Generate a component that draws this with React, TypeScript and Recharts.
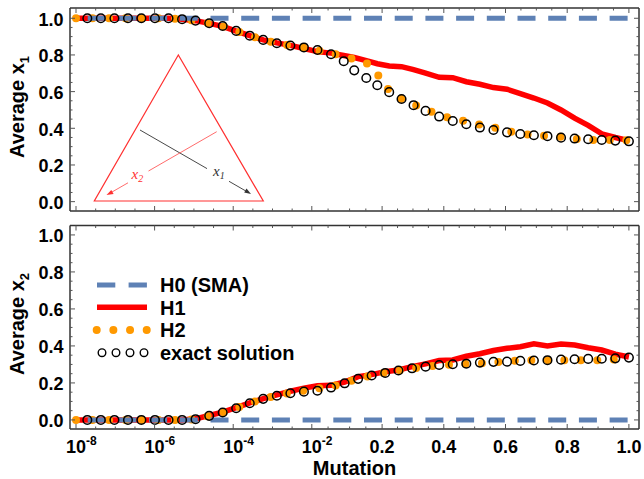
import React from "react";
import { LineChart, Line, XAxis, YAxis } from "recharts";

const FONT = '"Liberation Sans", Arial, Helvetica, sans-serif';
const BLUE = "#5E81B5";
const RED = "#FF0000";
const ORANGE = "#FF9900";
const FRAME = "#333";

// mutation rates of the sampled points (top panel has a few extra around 0.04-0.3)
const mutTop = [
    1.94e-8, 4.28e-8, 9.5e-8, 2.1e-7, 4.6e-7, 1.02e-6, 2.26e-6, 5.0e-6, 1.1e-5, 2.45e-5,
    5.4e-5, 1.19e-4, 2.64e-4, 5.8e-4, 1.29e-3, 2.85e-3, 6.3e-3, 0.0127, 0.0227, 0.039,
    0.061, 0.102, 0.163, 0.223, 0.263, 0.302, 0.341, 0.385, 0.429, 0.473,
    0.517, 0.561, 0.605, 0.648, 0.692, 0.736, 0.78, 0.824, 0.868, 0.912, 0.956, 1.0,
];
const mutBottom = [
    1.94e-8, 4.28e-8, 9.5e-8, 2.1e-7, 4.6e-7, 1.02e-6, 2.26e-6, 5.0e-6, 1.1e-5, 2.45e-5,
    5.4e-5, 1.19e-4, 2.64e-4, 5.8e-4, 1.29e-3, 2.85e-3, 6.3e-3, 0.0127, 0.0227, 0.0405,
    0.0719, 0.128, 0.21, 0.253, 0.297, 0.341, 0.385, 0.429, 0.473, 0.517,
    0.561, 0.605, 0.648, 0.692, 0.736, 0.78, 0.824, 0.868, 0.912, 0.956, 1.0,
];
const curveStart = 1e-8; // H0/H1/H2 curves start at the left tick
const mutEnd = 1.0;

// Average x1
const exactX1 = [
    1, 1, 1, 1, 1, 1, 1, 0.995, 0.987, 0.973, 0.958, 0.931, 0.905, 0.882, 0.864, 0.851,
    0.841, 0.827, 0.804, 0.766, 0.716, 0.674, 0.635, 0.597, 0.56, 0.526, 0.495, 0.464,
    0.44, 0.422, 0.404, 0.391, 0.378, 0.369, 0.362, 0.357, 0.349, 0.344, 0.34, 0.336, 0.333, 0.329,
];
const h1X1 = [
    1, 1, 1, 1, 1, 1, 1, 0.995, 0.987, 0.972, 0.956, 0.93, 0.905, 0.882, 0.866, 0.852,
    0.835, 0.818, 0.81, 0.797, 0.786, 0.769, 0.752, 0.74, 0.736, 0.72, 0.701, 0.678,
    0.676, 0.654, 0.64, 0.622, 0.613, 0.589, 0.565, 0.538, 0.5, 0.455, 0.416, 0.37, 0.35, 0.333,
];
const h2X1 = [
    1, 1, 1, 1, 1, 1, 1, 0.995, 0.987, 0.973, 0.958, 0.931, 0.905, 0.882, 0.864, 0.851,
    0.84, 0.825, 0.808, 0.797, 0.775, 0.757, 0.695, 0.606, 0.56, 0.53, 0.503, 0.475,
    0.45, 0.438, 0.42, 0.405, 0.385, 0.372, 0.362, 0.358, 0.354, 0.342, 0.337, 0.336, 0.336, 0.335,
];
const startX1 = 1;
const h0X1 = 1;

// Average x2
const exactX2 = [
    0, 0, 0, 0, 0, 0, 0, 0, 0.004, 0.022, 0.04, 0.063, 0.09, 0.114, 0.131, 0.144, 0.153,
    0.158, 0.175, 0.198, 0.222, 0.24, 0.254, 0.267, 0.279, 0.288, 0.297, 0.301, 0.304,
    0.31, 0.314, 0.315, 0.319, 0.321, 0.323, 0.326, 0.328, 0.33, 0.331, 0.333, 0.337,
];
const h1X2 = [
    0, 0, 0, 0, 0, 0, 0, 0, 0.006, 0.024, 0.042, 0.066, 0.092, 0.115, 0.135, 0.155, 0.172,
    0.185, 0.187, 0.205, 0.234, 0.245, 0.261, 0.27, 0.288, 0.303, 0.321, 0.324, 0.344,
    0.358, 0.375, 0.387, 0.396, 0.411, 0.4, 0.41, 0.405, 0.39, 0.378, 0.356, 0.34,
];
const h2X2 = [
    0, 0, 0, 0, 0, 0, 0, 0, 0.004, 0.022, 0.04, 0.063, 0.09, 0.114, 0.132, 0.147, 0.158,
    0.17, 0.18, 0.2, 0.222, 0.24, 0.255, 0.267, 0.278, 0.287, 0.295, 0.3, 0.302,
    0.305, 0.31, 0.318, 0.322, 0.323, 0.322, 0.322, 0.323, 0.323, 0.322, 0.328, 0.337,
];
const startX2 = 0;
const h0X2 = 0;

const xMajor = [1e-8, 1e-6, 1e-4, 1e-2, 0.2, 0.4, 0.6, 0.8, 1.0];
const xMajorLabels = ["10^-8", "10^-6", "10^-4", "10^-2", "0.2", "0.4", "0.6", "0.8", "1.0"];
const xMinorExp = [-7.5, -7, -6.5, -5.5, -5, -4.5, -3.5, -3, -2.5];
const xMinorMid = [0.02, 0.05, 0.1];
const xMinorLin = [0.25, 0.3, 0.35, 0.45, 0.5, 0.55, 0.65, 0.7, 0.75, 0.85, 0.9, 0.95];
const yMajor = [0, 0.2, 0.4, 0.6, 0.8, 1.0];
const yMinor = [0.05, 0.1, 0.15, 0.25, 0.3, 0.35, 0.45, 0.5, 0.55, 0.65, 0.7, 0.75, 0.85, 0.9, 0.95];

// mixed axis: log decades up to 1e-2, a short log bridge to 0.2, then linear
function axisPos(m: number) {
    if (m <= 1e-2) return Math.log10(m) + 8;
    if (m < 0.2) return 6 + (1.789 * (Math.log10(m) + 2)) / Math.log10(20);
    return 7.789 + (m - 0.2) * 7.85;
}

const X_DOMAIN: [number, number] = [-0.153, 14.326];
const xMajorPos = xMajor.map(axisPos);
const xTicks = [...xMajor, ...xMinorExp.map((e) => 10 ** e), ...xMinorMid, ...xMinorLin]
    .map(axisPos)
    .sort((a, b) => a - b);
const yTicks = [...yMajor, ...yMinor].sort((a, b) => a - b);

type Series = { key: string; m: number[]; v: number[] };
function buildRows(series: Series[]) {
    const map = new Map<number, any>();
    series.forEach((s) =>
        s.m.forEach((m, i) => {
            const row = map.get(m) ?? { m, u: axisPos(m) };
            row[s.key] = s.v[i];
            map.set(m, row);
        })
    );
    return [...map.values()].sort((a, b) => a.m - b.m);
}

const topRows = buildRows([
    { key: "exact", m: mutTop, v: exactX1 },
    { key: "h1", m: [curveStart, ...mutTop], v: [startX1, ...h1X1] },
    { key: "h2", m: [curveStart, ...mutTop], v: [startX1, ...h2X1] },
    { key: "h0", m: [curveStart, mutEnd], v: [h0X1, h0X1] },
]);
const bottomRows = buildRows([
    { key: "exact", m: mutBottom, v: exactX2 },
    { key: "h1", m: [curveStart, ...mutBottom], v: [startX2, ...h1X2] },
    { key: "h2", m: [curveStart, ...mutBottom], v: [startX2, ...h2X2] },
    { key: "h0", m: [curveStart, mutEnd], v: [h0X2, h0X2] },
]);

const labelStyle = { fontFamily: FONT, fontWeight: 700, fill: "#000" } as const;

const xTick = (side: "top" | "bottom", withLabels: boolean) => (props: any) => {
    const { x, y, payload } = props;
    const idx = xMajorPos.findIndex((p) => Math.abs(p - payload.value) < 1e-9);
    const len = idx >= 0 ? 5 : 2.5;
    let label: React.ReactNode = null;
    if (withLabels && idx >= 0) {
        const [base, exp] = xMajorLabels[idx].split("^");
        label = exp ? (
            <text x={x - 10} y={y + 23.5} textAnchor="start" fontSize={18} {...labelStyle}>
                {base}
                <tspan dy={-7.5} fontSize={12}>{exp}</tspan>
            </text>
        ) : (
            <text x={x} y={y + 23.5} textAnchor="middle" fontSize={18} {...labelStyle}>
                {base}
            </text>
        );
    }
    return (
        <g>
            <line x1={x} x2={x} y1={y} y2={side === "bottom" ? y - len : y + len} stroke="#555" strokeWidth={1} />
            {label}
        </g>
    );
};

const yTick = (side: "left" | "right") => (props: any) => {
    const { x, y, payload } = props;
    const major = yMajor.some((t) => Math.abs(t - payload.value) < 1e-9);
    const len = major ? 5 : 2.5;
    return (
        <g>
            <line x1={x} x2={side === "left" ? x + len : x - len} y1={y} y2={y} stroke="#555" strokeWidth={1} />
            {side === "left" && major && (
                <text x={x - 6.5} y={y} dy={7.5} textAnchor="end" fontSize={18} {...labelStyle}>
                    {Number(payload.value).toFixed(1)}
                </text>
            )}
        </g>
    );
};

const frame = { stroke: FRAME, strokeWidth: 1.5 };

function Panel({
    rows,
    height,
    topH,
    bottomH,
    yDomain,
    withXLabels,
}: {
    rows: any[];
    height: number;
    topH: number;
    bottomH: number;
    yDomain: [number, number];
    withXLabels: boolean;
}) {
    return (
        <LineChart width={644} height={height} data={rows} margin={{ top: 0, right: 0, bottom: 0, left: 0 }}>
            <XAxis
                dataKey="u"
                type="number"
                domain={X_DOMAIN}
                allowDataOverflow
                ticks={xTicks}
                interval={0}
                tickSize={0}
                tickMargin={0}
                height={bottomH}
                axisLine={frame}
                tickLine={false}
                tick={xTick("bottom", withXLabels)}
                label={
                    withXLabels
                        ? { value: "Mutation", position: "insideBottom", offset: 4.5, fontSize: 20, ...labelStyle }
                        : undefined
                }
            />
            <XAxis
                xAxisId="top"
                orientation="top"
                dataKey="u"
                type="number"
                domain={X_DOMAIN}
                allowDataOverflow
                ticks={xTicks}
                interval={0}
                tickSize={0}
                tickMargin={0}
                height={topH}
                axisLine={frame}
                tickLine={false}
                tick={xTick("top", false)}
            />
            <YAxis
                type="number"
                domain={yDomain}
                allowDataOverflow
                ticks={yTicks}
                interval={0}
                tickSize={0}
                tickMargin={0}
                width={70}
                axisLine={frame}
                tickLine={false}
                tick={yTick("left")}
            />
            <YAxis
                yAxisId="right"
                orientation="right"
                type="number"
                domain={yDomain}
                allowDataOverflow
                ticks={yTicks}
                interval={0}
                tickSize={0}
                tickMargin={0}
                width={5}
                axisLine={frame}
                tickLine={false}
                tick={yTick("right")}
            />
            <Line
                dataKey="h1"
                type="linear"
                stroke={RED}
                strokeWidth={5.5}
                dot={false}
                activeDot={false}
                connectNulls
                isAnimationActive={false}
            />
            <Line
                dataKey="h2"
                type="linear"
                stroke={ORANGE}
                strokeWidth={8}
                strokeDasharray="0 16.5"
                strokeLinecap="round"
                dot={false}
                activeDot={false}
                connectNulls
                isAnimationActive={false}
            />
            <Line
                dataKey="h0"
                type="linear"
                stroke={BLUE}
                strokeWidth={5}
                strokeDasharray="18 12.7"
                strokeDashoffset={19}
                dot={false}
                activeDot={false}
                connectNulls
                isAnimationActive={false}
            />
            <Line
                dataKey="exact"
                type="linear"
                stroke="none"
                dot={{ r: 4.3, fill: "none", stroke: "#000", strokeWidth: 1.5 }}
                activeDot={false}
                isAnimationActive={false}
            />
        </LineChart>
    );
}

function Overlay() {
    const t = { fontFamily: FONT, fontWeight: 700, fill: "#000" };
    const it = { fontFamily: '"Liberation Serif", "Times New Roman", serif', fontStyle: "italic" as const };
    return (
        <svg width={644} height={479} style={{ position: "absolute", left: 0, top: 0, pointerEvents: "none" }}>
            {/* axis titles */}
            <text transform="translate(24,107) rotate(-90)" textAnchor="middle" fontSize={20} {...t}>
                Average x<tspan dy={5} fontSize={13}>1</tspan>
            </text>
            <text transform="translate(24,324) rotate(-90)" textAnchor="middle" fontSize={20} {...t}>
                Average x<tspan dy={5} fontSize={13}>2</tspan>
            </text>

            {/* inset simplex */}
            <polygon points="178.3,55 94.3,201 263.3,201" fill="none" stroke="#FF3030" strokeWidth={1.2} />
            <line x1={140} y1={130} x2={207} y2={168.6} stroke="#333" strokeWidth={0.9} />
            <line x1={229} y1={181.3} x2={246} y2={191.1} stroke="#333" strokeWidth={0.9} />
            <polygon points="251,194 244.2,192.6 246.5,188.6" fill="#333" />
            <text x={213} y={176} fontSize={15} fill="#333" {...it}>
                x<tspan dy={3} fontSize={10}>1</tspan>
            </text>
            <line x1={216.7} y1={131.7} x2={148.5} y2={171} stroke="#FF5A5A" strokeWidth={0.9} />
            <line x1={128} y1={182.8} x2={111.5} y2={192.3} stroke="#FF5A5A" strokeWidth={0.9} />
            <polygon points="106.5,195 111.3,190 113.6,194" fill="#FF3030" />
            <text x={131.5} y={179} fontSize={15} fill="#FF3030" {...it}>
                x<tspan dy={3} fontSize={10}>2</tspan>
            </text>

            {/* legend */}
            <line x1={97} x2={147} y1={285} y2={285} stroke={BLUE} strokeWidth={5} strokeDasharray="18.3 13.3" />
            <line x1={97} x2={147} y1={307.3} y2={307.3} stroke={RED} strokeWidth={5.5} />
            <line
                x1={96.7}
                x2={146.8}
                y1={330}
                y2={330}
                stroke={ORANGE}
                strokeWidth={8}
                strokeDasharray="0 16.67"
                strokeLinecap="round"
            />
            {[102, 116, 130, 144].map((cx) => (
                <circle key={cx} cx={cx} cy={352.7} r={3.8} fill="#fff" stroke="#000" strokeWidth={1.4} />
            ))}
            <text x={160} y={292.2} fontSize={20} {...t}>H0 (SMA)</text>
            <text x={160} y={314.5} fontSize={20} {...t}>H1</text>
            <text x={160} y={337.2} fontSize={20} {...t}>H2</text>
            <text x={160} y={359.9} fontSize={20} {...t}>exact solution</text>
        </svg>
    );
}

export default function App() {
    return (
        <div
            style={{
                position: "absolute",
                left: 0,
                top: 0,
                width: 644,
                height: 479,
                background: "#fff",
                fontFamily: FONT,
            }}
        >
            <div style={{ position: "absolute", left: 0, top: 0 }}>
                <Panel rows={topRows} height={220} topH={8} bottomH={9} yDomain={[-0.051, 1.056]} withXLabels={false} />
            </div>
            <div style={{ position: "absolute", left: 0, top: 220 }}>
                <Panel rows={bottomRows} height={259} topH={5.5} bottomH={50} yDomain={[-0.049, 1.051]} withXLabels />
            </div>
            <Overlay />
        </div>
    );
}
